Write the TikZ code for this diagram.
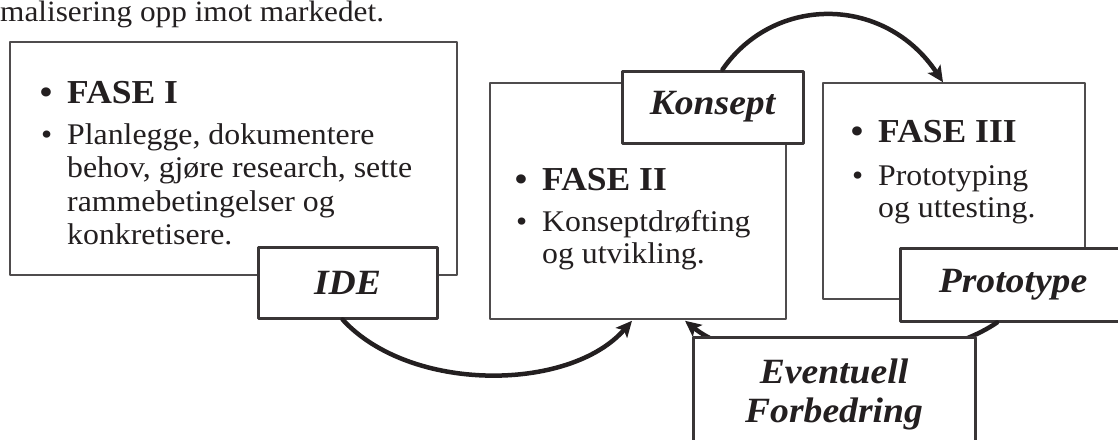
\documentclass[tikz,border=0pt]{standalone}
\usepackage{fontspec}
\setmainfont{Liberation Serif}[FakeStretch=1.06]
\usetikzlibrary{arrows.meta}
\definecolor{mork}{RGB}{35,31,32}
\tikzset{
	fasebox/.style={draw=mork!80,line width=1.5pt,fill=white,inner sep=0pt},
	merkelapp/.style={draw=mork!90,line width=3pt,fill=white,inner sep=0pt,text=mork,align=center,font=\fontsize{35.5}{39}\selectfont\bfseries\itshape},
	linje/.style={anchor=base west,inner sep=0pt,text=mork,font=\fontsize{30}{33}\selectfont},
	tittel/.style={anchor=base west,inner sep=0pt,text=mork,font=\fontsize{33.5}{37}\selectfont\bfseries},
	pil/.style={->,draw=mork,line width=4.5pt}
}
\newcommand\punkt{\llap{\textbullet\hspace{15pt}}}
\begin{document}
\begin{tikzpicture}[line cap=round,line join=round,>={Stealth[length=16pt,width=15pt,inset=3.5pt]},x=1pt,y=-1pt]
		\useasboundingbox (0,0) rectangle (1118,439);
		\clip (0,0) rectangle (1118,439);
		\node[linje,font=\fontsize{29.5}{32}\selectfont] (overlinje) at (0,21) {malisering opp imot markedet.};
		% de tre fasene
		\node[fasebox,minimum width=447,minimum height=233] (fase1) at (233.5,158.5) {};
		\node[fasebox,minimum width=296,minimum height=236] (fase2) at (638,201) {};
		\node[fasebox,minimum width=262,minimum height=216] (fase3) at (954,191) {};
		\node[tittel] (f1tittel) at (67,103) {\punkt FASE I};
		\node[linje] (f1a) at (67,144) {\punkt Planlegge, dokumentere};
		\node[linje] (f1b) at (67,177) {behov, gjøre research, sette};
		\node[linje] (f1c) at (67,211) {rammebetingelser og};
		\node[linje] (f1d) at (67,244) {konkretisere.};
		\node[tittel] (f2tittel) at (542,190) {\punkt FASE II};
		\node[linje] (f2a) at (542,231) {\punkt Konseptdrøfting};
		\node[linje] (f2b) at (542,263) {og utvikling.};
		\node[tittel] (f3tittel) at (878,142) {\punkt FASE III};
		\node[linje] (f3a) at (878,185) {\punkt Prototyping};
		\node[linje] (f3b) at (878,217) {og uttesting.};
		% merkelappene
		\node[merkelapp,minimum width=179,minimum height=71] (ide) at (347.5,282.5) {IDE};
		\node[merkelapp,minimum width=181,minimum height=72] (konsept) at (712.5,107) {Konsept};
		\node[merkelapp,minimum width=226,minimum height=73] (prototype) at (1013,284.5) {Prototype};
		% pilene
		\draw[pil] ([xshift=-5]ide.south) .. controls +(68,74) and +(-62,71) .. ([xshift=-6,yshift=-1]fase2.south);
		\draw[pil] ([xshift=10]konsept.north) .. controls +(52,-75) and +(-58,-87) .. ([xshift=-11]fase3.north);
		\draw[pil] ([xshift=-16]prototype.south) .. controls +(-73,50) and +(66,53) .. ([xshift=47,yshift=-1]fase2.south);
		\node[merkelapp,minimum width=282,minimum height=114] (forbedring) at (834,394) {Eventuell\\Forbedring};
	\end{tikzpicture}
\end{document}
